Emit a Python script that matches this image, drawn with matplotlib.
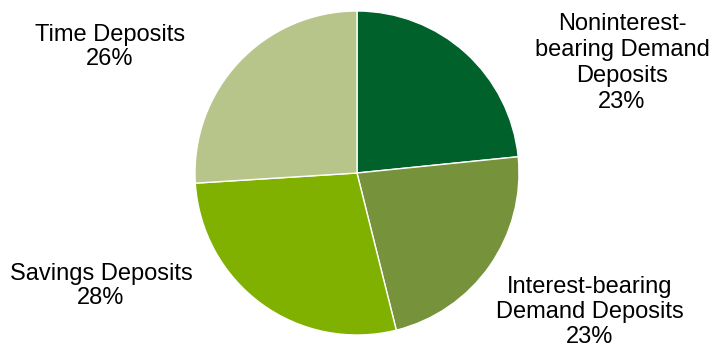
import matplotlib
matplotlib.use("Agg")
import matplotlib.pyplot as plt

plt.rcParams['font.family'] = ['Liberation Sans', 'DejaVu Sans']

categories = ["Noninterest-\nbearing Demand\nDeposits", "Interest-bearing\nDemand Deposits",
              "Savings Deposits", "Time Deposits"]
values = [23.4, 22.7, 27.9, 26.0]
pct_labels = ["23%", "23%", "28%", "26%"]
colors = ["#00612B", "#76933C", "#80B000", "#B7C58A"]

W, H = 712, 348
fig = plt.figure(figsize=(W / 100, H / 100), dpi=100)
cx, cy, r = 357, 173, 162
ax = fig.add_axes([(cx - r) / W, (H - cy - r) / H, 2 * r / W, 2 * r / H])
ax.pie(values, colors=colors, startangle=90, counterclock=False,
       wedgeprops=dict(edgecolor="white", linewidth=1.0), radius=1.0)
ax.set_xlim(-1, 1)
ax.set_ylim(-1, 1)
ax.set_aspect("equal")
ax.axis("off")

label_pos = [(622, 63), (590, 312), (101, 286), (110, 47)]
spacings = [1.22, 1.2, 1.15, 1.1]
for cat, pct, (x, y), ls in zip(categories, pct_labels, label_pos, spacings):
    fig.text(x / W, 1 - y / H, cat + "\n" + pct, ha="center", va="center",
             fontsize=17, linespacing=ls, color="#000000")

fig.savefig("out.png", dpi=100)
